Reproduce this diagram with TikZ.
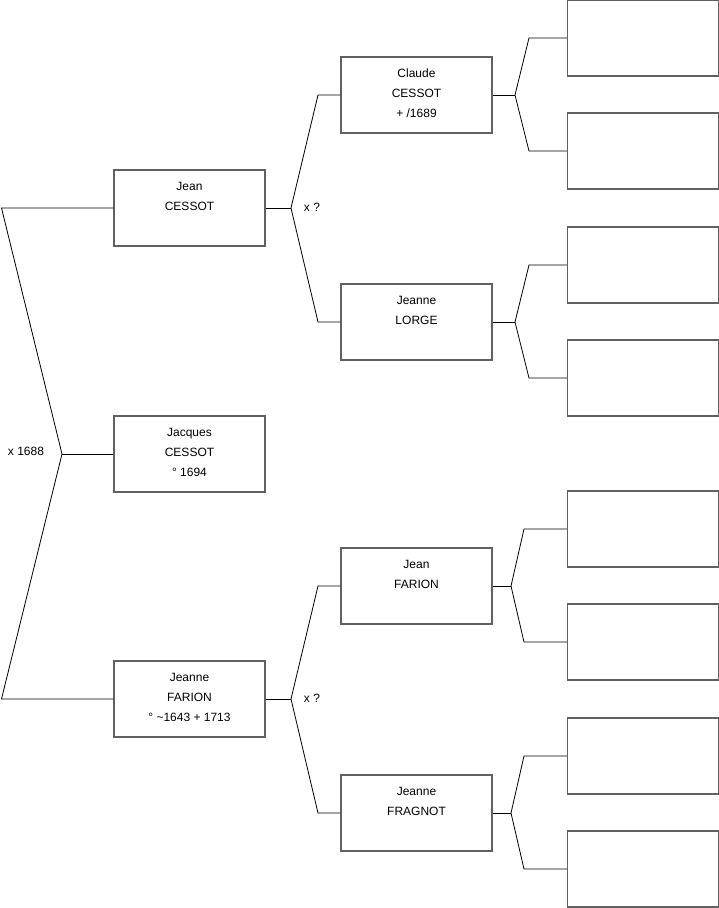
\documentclass[tikz,border=0pt]{standalone}
\usepackage{fontspec}
\setmainfont{Liberation Sans}
\newcommand{\boxtxt}[1]{\parbox[t][76pt][t]{151pt}{\centering\fontsize{12}{20}\selectfont\vspace*{6.5pt}\strut #1}}
\begin{document}
\begin{tikzpicture}[x=1pt,y=-1pt,
  person/.style={draw=black!62,line width=1.1pt,minimum width=151pt,minimum height=76pt,inner sep=0pt,fill=white},
  link/.style={draw=black,line width=0.8pt},
  lbl/.style={font=\fontsize{12}{14}\selectfont,inner sep=0pt}]
\useasboundingbox (0,0) rectangle (719,908);
% generation 1
\node[person] (g1) at (189.5,454) {\boxtxt{Jacques\\CESSOT\\° 1694}};
% generation 2
\node[person] (p1) at (189.5,208) {\boxtxt{Jean\\CESSOT}};
\node[person] (m1) at (189.5,699) {\boxtxt{Jeanne\\FARION\\° \textasciitilde1643 + 1713}};
% generation 3
\node[person] (pp) at (416.5,95) {\boxtxt{Claude\\CESSOT\\+ /1689}};
\node[person] (pm) at (416.5,322) {\boxtxt{Jeanne\\LORGE}};
\node[person] (mp) at (416.5,586) {\boxtxt{Jean\\FARION}};
\node[person] (mm) at (416.5,813) {\boxtxt{Jeanne\\FRAGNOT}};
% generation 4 (empty)
\node[person] (r1) at (643,38) {};
\node[person] (r2) at (643,151) {};
\node[person] (r3) at (643,265) {};
\node[person] (r4) at (643,378) {};
\node[person] (r5) at (643,529) {};
\node[person] (r6) at (643,642) {};
\node[person] (r7) at (643,756) {};
\node[person] (r8) at (643,869) {};
% coordinates
\coordinate (v0) at (62,454);
\coordinate (a0) at (1.5,208);
\coordinate (b0) at (1.5,699);
\coordinate (v1) at (291,208);
\coordinate (a1) at (318,95);
\coordinate (b1) at (318,322);
\coordinate (v2) at (291,699);
\coordinate (a2) at (318,586);
\coordinate (b2) at (318,813);
\coordinate (v3) at (515,95);
\coordinate (a3) at (529,38);
\coordinate (b3) at (529,151);
\coordinate (v4) at (515,322);
\coordinate (a4) at (529,265);
\coordinate (b4) at (529,378);
\coordinate (v5) at (511,586);
\coordinate (a5) at (524,529);
\coordinate (b5) at (524,642);
\coordinate (v6) at (511,813);
\coordinate (a6) at (524,756);
\coordinate (b6) at (524,869);
% connectors
\draw[link] (g1.west) -- (v0);
\draw[link] (v0) -- (a0) -- (p1.west);
\draw[link] (v0) -- (b0) -- (m1.west);
\draw[link] (p1.east) -- (v1);
\draw[link] (v1) -- (a1) -- (pp.west);
\draw[link] (v1) -- (b1) -- (pm.west);
\draw[link] (m1.east) -- (v2);
\draw[link] (v2) -- (a2) -- (mp.west);
\draw[link] (v2) -- (b2) -- (mm.west);
\draw[link] (pp.east) -- (v3);
\draw[link] (v3) -- (a3) -- (r1.west);
\draw[link] (v3) -- (b3) -- (r2.west);
\draw[link] (pm.east) -- (v4);
\draw[link] (v4) -- (a4) -- (r3.west);
\draw[link] (v4) -- (b4) -- (r4.west);
\draw[link] (mp.east) -- (v5);
\draw[link] (v5) -- (a5) -- (r5.west);
\draw[link] (v5) -- (b5) -- (r6.west);
\draw[link] (mm.east) -- (v6);
\draw[link] (v6) -- (a6) -- (r7.west);
\draw[link] (v6) -- (b6) -- (r8.west);
% marriage labels
\node[lbl] (l0) at (26,451) {x 1688};
\node[lbl] (l1) at (312,207) {x ?};
\node[lbl] (l2) at (312,698) {x ?};
\end{tikzpicture}
\end{document}
